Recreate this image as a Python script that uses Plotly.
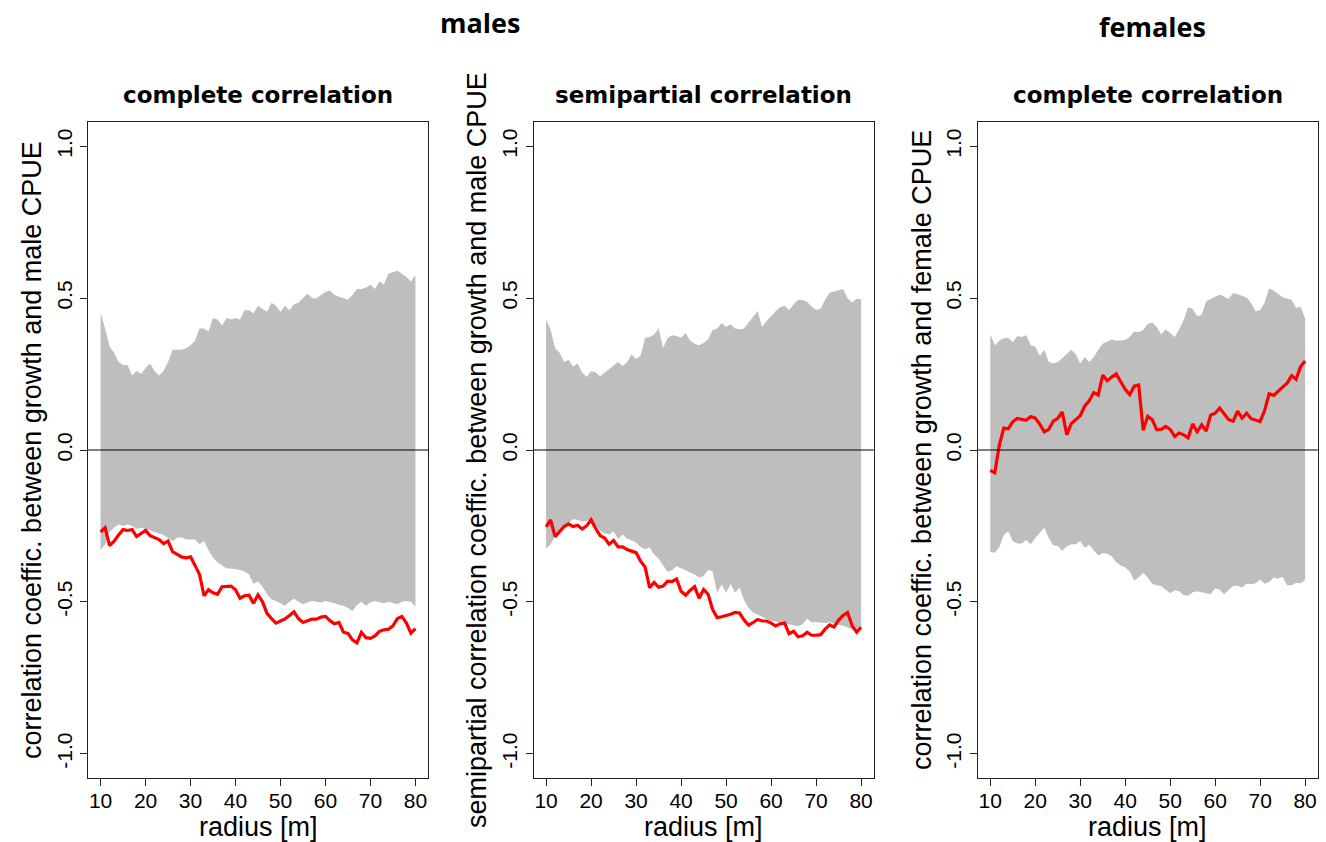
import plotly.graph_objects as go

# ---------------- data ----------------
radius = list(range(10, 81))

# males, complete correlation
m_comp_upper = [0.45, 0.40, 0.34, 0.32, 0.29, 0.28, 0.28, 0.245, 0.26, 0.25,
                0.27, 0.285, 0.26, 0.245, 0.26, 0.29, 0.33, 0.33, 0.33, 0.335,
                0.345, 0.36, 0.40, 0.40, 0.39, 0.435, 0.43, 0.41, 0.435, 0.43,
                0.435, 0.43, 0.46, 0.46, 0.45, 0.475, 0.465, 0.455, 0.485, 0.475,
                0.455, 0.475, 0.46, 0.48, 0.485, 0.50, 0.515, 0.50, 0.50, 0.51,
                0.52, 0.525, 0.51, 0.505, 0.50, 0.495, 0.51, 0.53, 0.53, 0.535,
                0.545, 0.53, 0.555, 0.545, 0.58, 0.585, 0.59, 0.58, 0.57, 0.555,
                0.575]
m_comp_lower = [-0.33, -0.31, -0.27, -0.255, -0.245, -0.25, -0.245, -0.25, -0.26, -0.255,
                -0.26, -0.265, -0.27, -0.275, -0.28, -0.29, -0.30, -0.29, -0.287, -0.295,
                -0.295, -0.295, -0.31, -0.30, -0.33, -0.355, -0.37, -0.38, -0.39, -0.39,
                -0.392, -0.395, -0.40, -0.41, -0.44, -0.433, -0.45, -0.475, -0.492, -0.497,
                -0.505, -0.513, -0.50, -0.49, -0.50, -0.508, -0.502, -0.497, -0.50, -0.502,
                -0.497, -0.50, -0.505, -0.51, -0.513, -0.52, -0.53, -0.51, -0.50, -0.513,
                -0.502, -0.497, -0.502, -0.505, -0.50, -0.505, -0.508, -0.50, -0.497, -0.50,
                -0.516]
m_comp_obs = [-0.27, -0.256, -0.315, -0.30, -0.28, -0.262, -0.265, -0.262, -0.285, -0.275,
              -0.265, -0.282, -0.288, -0.295, -0.308, -0.30, -0.335, -0.345, -0.352, -0.355,
              -0.352, -0.38, -0.41, -0.48, -0.46, -0.47, -0.475, -0.45, -0.448, -0.448,
              -0.46, -0.488, -0.48, -0.478, -0.505, -0.477, -0.50, -0.538, -0.555, -0.57,
              -0.563, -0.556, -0.545, -0.533, -0.555, -0.568, -0.562, -0.557, -0.557, -0.55,
              -0.548, -0.562, -0.572, -0.568, -0.60, -0.604, -0.625, -0.635, -0.60, -0.618,
              -0.62, -0.612, -0.597, -0.592, -0.59, -0.579, -0.555, -0.548, -0.57, -0.603,
              -0.588]

# males, semipartial correlation
m_semi_upper = [0.43, 0.395, 0.335, 0.32, 0.29, 0.297, 0.275, 0.285, 0.255, 0.24,
                0.26, 0.255, 0.243, 0.255, 0.265, 0.28, 0.29, 0.276, 0.29, 0.315,
                0.30, 0.31, 0.37, 0.372, 0.38, 0.40, 0.335, 0.37, 0.378, 0.375,
                0.37, 0.385, 0.36, 0.35, 0.345, 0.352, 0.365, 0.395, 0.40, 0.418,
                0.405, 0.414, 0.40, 0.398, 0.40, 0.42, 0.44, 0.458, 0.405, 0.425,
                0.44, 0.457, 0.47, 0.475, 0.46, 0.48, 0.495, 0.494, 0.488, 0.472,
                0.462, 0.465, 0.495, 0.518, 0.522, 0.527, 0.53, 0.50, 0.486, 0.498,
                0.496]
m_semi_lower = [-0.325, -0.31, -0.285, -0.265, -0.25, -0.24, -0.228, -0.23, -0.236, -0.234,
                -0.23, -0.248, -0.265, -0.274, -0.278, -0.268, -0.293, -0.278, -0.292, -0.297,
                -0.305, -0.319, -0.327, -0.32, -0.345, -0.357, -0.38, -0.402, -0.395, -0.383,
                -0.39, -0.395, -0.403, -0.41, -0.42, -0.415, -0.395, -0.40, -0.47, -0.443,
                -0.47, -0.44, -0.47, -0.453, -0.495, -0.52, -0.535, -0.542, -0.548, -0.556,
                -0.563, -0.565, -0.568, -0.571, -0.574, -0.578, -0.58, -0.574, -0.555, -0.568,
                -0.566, -0.568, -0.57, -0.567, -0.572, -0.576, -0.579, -0.585, -0.59, -0.59,
                -0.588]
m_semi_obs = [-0.253, -0.23, -0.285, -0.27, -0.252, -0.243, -0.252, -0.248, -0.26, -0.25,
              -0.23, -0.258, -0.282, -0.29, -0.31, -0.298, -0.319, -0.319, -0.328, -0.333,
              -0.338, -0.366, -0.385, -0.453, -0.436, -0.452, -0.448, -0.432, -0.433, -0.425,
              -0.465, -0.478, -0.462, -0.45, -0.488, -0.459, -0.475, -0.525, -0.552, -0.549,
              -0.546, -0.541, -0.535, -0.537, -0.56, -0.577, -0.568, -0.558, -0.563, -0.563,
              -0.57, -0.579, -0.572, -0.57, -0.605, -0.597, -0.615, -0.612, -0.60, -0.61,
              -0.61, -0.608, -0.59, -0.576, -0.583, -0.56, -0.545, -0.535, -0.578, -0.60,
              -0.584]

# females, complete correlation
f_comp_upper = [0.38, 0.345, 0.36, 0.368, 0.37, 0.355, 0.375, 0.372, 0.378, 0.345,
                0.34, 0.31, 0.33, 0.29, 0.285, 0.29, 0.302, 0.315, 0.33, 0.315,
                0.285, 0.306, 0.29, 0.305, 0.33, 0.35, 0.357, 0.364, 0.36, 0.36,
                0.362, 0.372, 0.39, 0.388, 0.395, 0.415, 0.42, 0.406, 0.38, 0.398,
                0.385, 0.372, 0.398, 0.428, 0.47, 0.465, 0.44, 0.445, 0.49, 0.497,
                0.503, 0.512, 0.505, 0.497, 0.517, 0.513, 0.508, 0.502, 0.483, 0.457,
                0.461, 0.486, 0.532, 0.525, 0.515, 0.503, 0.498, 0.495, 0.468, 0.472,
                0.433]
f_comp_lower = [-0.336, -0.338, -0.32, -0.28, -0.268, -0.30, -0.308, -0.308, -0.296, -0.31,
                -0.29, -0.272, -0.256, -0.29, -0.314, -0.316, -0.332, -0.318, -0.31, -0.31,
                -0.30, -0.322, -0.312, -0.33, -0.347, -0.34, -0.342, -0.35, -0.37, -0.38,
                -0.387, -0.40, -0.43, -0.42, -0.404, -0.42, -0.44, -0.445, -0.448, -0.46,
                -0.472, -0.462, -0.465, -0.478, -0.48, -0.468, -0.465, -0.468, -0.472, -0.475,
                -0.455, -0.46, -0.475, -0.46, -0.448, -0.447, -0.453, -0.44, -0.442, -0.439,
                -0.426, -0.44, -0.435, -0.42, -0.424, -0.417, -0.445, -0.445, -0.437, -0.439,
                -0.428]
f_comp_obs = [-0.067, -0.075, 0.015, 0.072, 0.07, 0.093, 0.104, 0.10, 0.098, 0.11,
              0.105, 0.085, 0.06, 0.068, 0.095, 0.104, 0.125, 0.05, 0.087, 0.10,
              0.113, 0.145, 0.162, 0.189, 0.181, 0.247, 0.228, 0.24, 0.251, 0.225,
              0.20, 0.182, 0.21, 0.214, 0.065, 0.111, 0.10, 0.067, 0.068, 0.078,
              0.068, 0.045, 0.056, 0.05, 0.04, 0.086, 0.06, 0.083, 0.062, 0.115,
              0.121, 0.138, 0.12, 0.10, 0.095, 0.128, 0.105, 0.121, 0.103, 0.098,
              0.094, 0.13, 0.185, 0.18, 0.195, 0.207, 0.22, 0.245, 0.233, 0.275,
              0.293]

x_ticks = [10, 20, 30, 40, 50, 60, 70, 80]
y_ticks = [-1.0, -0.5, 0.0, 0.5, 1.0]
y_ticktext = ["-1.0", "-0.5", "0.0", "0.5", "1.0"]

panel_titles = ["complete correlation", "semipartial correlation", "complete correlation"]
y_titles = ["correlation coeffic. between growth and male CPUE",
            "semipartial correlation coeffic. between growth and male CPUE",
            "correlation coeffic. between growth and female CPUE"]
x_title = "radius [m]"
group_titles = ["males", "females"]

# ---------------- figure ----------------
W, H = 1326, 842
FONT = "Liberation Sans, Arial, sans-serif"
TITLE_FONT = "DejaVu Sans, sans-serif"
BAND = "#BEBEBE"
AXC = "#222222"

x_domains = [(88 / W, 428 / W), (533.5 / W, 873.7 / W), (977.7 / W, 1317.7 / W)]
y_domain = (1 - 778 / H, 1 - 122 / H)

fig = go.Figure()
series = [(m_comp_upper, m_comp_lower, m_comp_obs),
          (m_semi_upper, m_semi_lower, m_semi_obs),
          (f_comp_upper, f_comp_lower, f_comp_obs)]

for i, (up, lo, obs) in enumerate(series):
    xa = "x" if i == 0 else f"x{i+1}"
    ya = "y" if i == 0 else f"y{i+1}"
    fig.add_trace(go.Scatter(x=radius, y=lo, mode="lines", line=dict(width=0, color=BAND),
                             hoverinfo="skip", showlegend=False, xaxis=xa, yaxis=ya))
    fig.add_trace(go.Scatter(x=radius, y=up, mode="lines", line=dict(width=0, color=BAND),
                             fill="tonexty", fillcolor=BAND,
                             hoverinfo="skip", showlegend=False, xaxis=xa, yaxis=ya))
    fig.add_trace(go.Scatter(x=radius, y=obs, mode="lines",
                             line=dict(color="#FF0000", width=3.2),
                             showlegend=False, xaxis=xa, yaxis=ya))
    # zero reference line across the panel
    fig.add_shape(type="line", xref=f"{xa} domain", yref=ya, x0=0, x1=1, y0=0, y1=0,
                  line=dict(color="#000000", width=1.2), layer="above")

    ax_common = dict(showline=True, mirror=True, linecolor=AXC, linewidth=1,
                     ticks="outside", ticklen=7, tickwidth=1, tickcolor=AXC,
                     showgrid=False, zeroline=False,
                     tickfont=dict(family=FONT, size=21, color="#000000"))
    xkey = "xaxis" if i == 0 else f"xaxis{i+1}"
    ykey = "yaxis" if i == 0 else f"yaxis{i+1}"
    fig.update_layout(**{
        xkey: dict(domain=list(x_domains[i]), range=[7.2, 82.8], tickmode="array",
                   tickvals=x_ticks, anchor=ya, ticklabelstandoff=-3, **ax_common),
        ykey: dict(domain=list(y_domain), range=[-1.08, 1.08], tickmode="array",
                   tickvals=y_ticks, ticktext=y_ticktext, tickangle=-90,
                   anchor=xa, **ax_common),
    })

    xc = (x_domains[i][0] + x_domains[i][1]) / 2
    # panel title
    fig.add_annotation(text=f"<b>{panel_titles[i]}</b>", xref="paper", yref="paper",
                       x=xc, y=1 - 95 / H, xanchor="center", yanchor="middle",
                       showarrow=False, font=dict(family=TITLE_FONT, size=23, color="#000000"))
    # x title
    fig.add_annotation(text=x_title, xref="paper", yref="paper",
                       x=xc, y=1 - 827 / H, xanchor="center", yanchor="middle",
                       showarrow=False, font=dict(family=FONT, size=27, color="#000000"))

# y titles
y_title_x = [32, 477, 922]
for i in range(3):
    fig.add_annotation(text=y_titles[i], xref="paper", yref="paper",
                       x=y_title_x[i] / W, y=1 - 450 / H, xanchor="center", yanchor="middle",
                       textangle=-90, showarrow=False,
                       font=dict(family=FONT, size=27, color="#000000"))

# group titles
fig.add_annotation(text=f"<b>{group_titles[0]}</b>", xref="paper", yref="paper",
                   x=480 / W, y=1 - 23 / H, xanchor="center", yanchor="middle",
                   showarrow=False, font=dict(family="Open Sans, sans-serif", size=27, color="#000000"))
fig.add_annotation(text=f"<b>{group_titles[1]}</b>", xref="paper", yref="paper",
                   x=1152.5 / W, y=1 - 26.5 / H, xanchor="center", yanchor="middle",
                   showarrow=False, font=dict(family="Open Sans, sans-serif", size=27, color="#000000"))

fig.update_layout(width=W, height=H, margin=dict(l=0, r=0, t=0, b=0),
                  paper_bgcolor="white", plot_bgcolor="white",
                  font=dict(family=FONT, color="#000000"), showlegend=False)

fig.write_html("out.html")
